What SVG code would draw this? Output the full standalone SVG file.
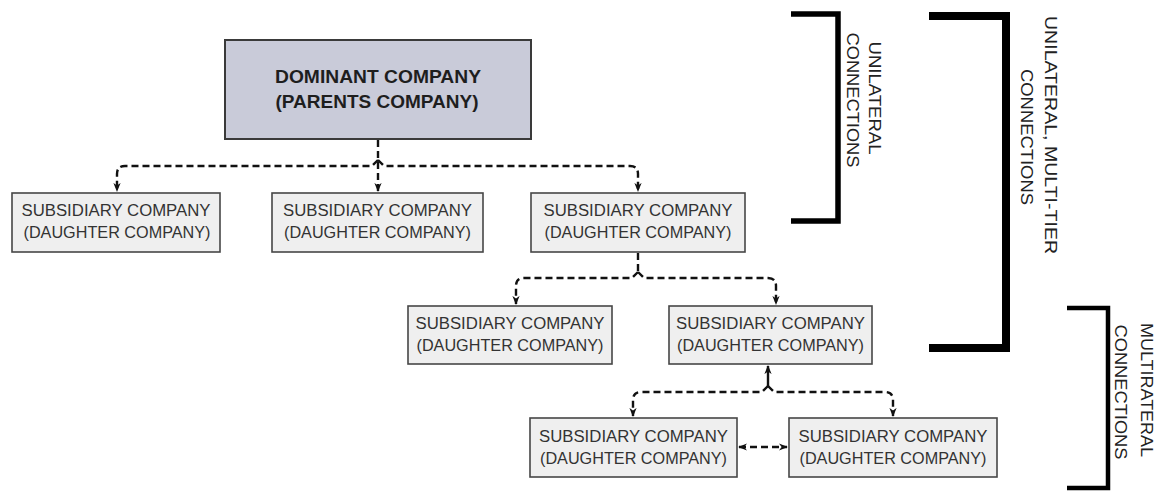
<svg xmlns="http://www.w3.org/2000/svg" width="1155" height="491" viewBox="0 0 1155 491">
<style>
.box{fill:#efefef;stroke:#464646;stroke-width:1.6}
.dom{fill:#c9cbd9;stroke:#3a3a3a;stroke-width:2}
.t{font-family:"Liberation Sans",Arial,sans-serif;font-size:16px;fill:#333;text-anchor:middle}
.tb{font-family:"Liberation Sans",Arial,sans-serif;font-size:18px;font-weight:bold;fill:#1e1e1e;text-anchor:middle}
.lab{font-family:"Liberation Sans",Arial,sans-serif;font-size:16.5px;fill:#222;text-anchor:middle}
.c{fill:none;stroke:#111;stroke-width:2.4;stroke-dasharray:7 4}
.br{fill:none;stroke:#000;stroke-linejoin:miter}
</style>
<defs>
<marker id="ah" viewBox="0 0 10 10" refX="9" refY="5" markerWidth="9" markerHeight="9" markerUnits="userSpaceOnUse" orient="auto-start-reverse">
<path d="M0 1 L10 5 L0 9 L3 5 z" fill="#111"/>
</marker>
</defs>

<g id="connectors">
<path class="c" d="M378 140 V191" marker-end="url(#ah)"/>
<path class="c" d="M378 160 L372 166 H125 Q117 166 117 174 V191" marker-end="url(#ah)"/>
<path class="c" d="M378 160 L384 166 H630 Q638 166 638 174 V191" marker-end="url(#ah)"/>
<path class="c" d="M638 253 V272"/>
<path class="c" d="M638 272 L632 278 H524 Q516 278 516 286 V304" marker-end="url(#ah)"/>
<path class="c" d="M638 272 L644 278 H768 Q776 278 776 286 V304" marker-end="url(#ah)"/>
<path fill="none" stroke="#111" stroke-width="2.4" d="M768 386 V366" marker-end="url(#ah)"/>
<path class="c" d="M768 386 L762 392 H641 Q633 392 633 400 V416" marker-end="url(#ah)"/>
<path class="c" d="M768 386 L774 392 H885 Q893 392 893 400 V416" marker-end="url(#ah)"/>
<path class="c" d="M739 447 H787" marker-start="url(#ah)" marker-end="url(#ah)"/>
</g>

<g id="dominant">
<rect class="dom" x="225" y="40" width="306" height="99"/>
<text class="tb" x="378" y="83" textLength="206" lengthAdjust="spacingAndGlyphs">DOMINANT COMPANY</text>
<text class="tb" x="377" y="108" textLength="203" lengthAdjust="spacingAndGlyphs">(PARENTS COMPANY)</text>
</g>

<g id="sub1">
<rect class="box" x="12" y="193" width="208" height="59"/>
<text class="t" x="116" y="216" textLength="189" lengthAdjust="spacingAndGlyphs">SUBSIDIARY COMPANY</text>
<text class="t" x="117" y="238" textLength="187" lengthAdjust="spacingAndGlyphs">(DAUGHTER COMPANY)</text>
</g>
<g id="sub2">
<rect class="box" x="272" y="193" width="211" height="59"/>
<text class="t" x="377.5" y="216" textLength="189" lengthAdjust="spacingAndGlyphs">SUBSIDIARY COMPANY</text>
<text class="t" x="377.5" y="238" textLength="187" lengthAdjust="spacingAndGlyphs">(DAUGHTER COMPANY)</text>
</g>
<g id="sub3">
<rect class="box" x="531" y="193" width="214" height="59"/>
<text class="t" x="638" y="216" textLength="189" lengthAdjust="spacingAndGlyphs">SUBSIDIARY COMPANY</text>
<text class="t" x="638" y="238" textLength="187" lengthAdjust="spacingAndGlyphs">(DAUGHTER COMPANY)</text>
</g>
<g id="sub4">
<rect class="box" x="408" y="306" width="204" height="58"/>
<text class="t" x="510" y="329" textLength="189" lengthAdjust="spacingAndGlyphs">SUBSIDIARY COMPANY</text>
<text class="t" x="510" y="351" textLength="187" lengthAdjust="spacingAndGlyphs">(DAUGHTER COMPANY)</text>
</g>
<g id="sub5">
<rect class="box" x="669" y="306" width="203" height="58"/>
<text class="t" x="770.5" y="329" textLength="189" lengthAdjust="spacingAndGlyphs">SUBSIDIARY COMPANY</text>
<text class="t" x="770.5" y="351" textLength="187" lengthAdjust="spacingAndGlyphs">(DAUGHTER COMPANY)</text>
</g>
<g id="sub6">
<rect class="box" x="530" y="418" width="207" height="59"/>
<text class="t" x="633.5" y="442" textLength="189" lengthAdjust="spacingAndGlyphs">SUBSIDIARY COMPANY</text>
<text class="t" x="633.5" y="464" textLength="187" lengthAdjust="spacingAndGlyphs">(DAUGHTER COMPANY)</text>
</g>
<g id="sub7">
<rect class="box" x="789" y="418" width="208" height="59"/>
<text class="t" x="893" y="442" textLength="189" lengthAdjust="spacingAndGlyphs">SUBSIDIARY COMPANY</text>
<text class="t" x="893" y="464" textLength="187" lengthAdjust="spacingAndGlyphs">(DAUGHTER COMPANY)</text>
</g>

<g id="bracket-unilateral">
<path class="br" stroke-width="5.5" d="M791 14 H838 V221 H791"/>
<text class="lab" transform="translate(869 98) rotate(90)" textLength="113" lengthAdjust="spacingAndGlyphs">UNILATERAL</text>
<text class="lab" transform="translate(847 100) rotate(90)" textLength="135" lengthAdjust="spacingAndGlyphs">CONNECTIONS</text>
</g>
<g id="bracket-multitier">
<path class="br" stroke-width="8" d="M929 16 H1006 V348 H929"/>
<text class="lab" transform="translate(1045 135) rotate(90)" textLength="238" lengthAdjust="spacingAndGlyphs">UNILATERAL, MULTI-TIER</text>
<text class="lab" transform="translate(1021 137) rotate(90)" textLength="136" lengthAdjust="spacingAndGlyphs">CONNECTIONS</text>
</g>
<g id="bracket-multilateral">
<path class="br" stroke-width="4.5" d="M1067 308 H1108 V488 H1067"/>
<text class="lab" transform="translate(1141 390) rotate(90)" textLength="134" lengthAdjust="spacingAndGlyphs">MULTIRATERAL</text>
<text class="lab" transform="translate(1115 392) rotate(90)" textLength="135" lengthAdjust="spacingAndGlyphs">CONNECTIONS</text>
</g>
</svg>
